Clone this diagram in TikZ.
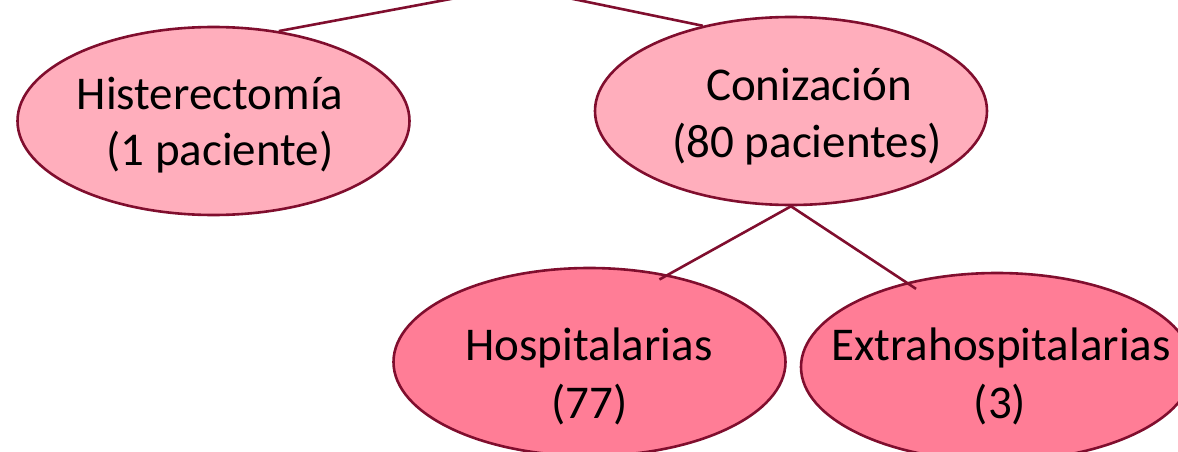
\documentclass[tikz,border=0pt]{standalone}
\usepackage{fontspec}
\setmainfont{Carlito}
\usetikzlibrary{shapes.geometric}
\definecolor{edgered}{RGB}{128,14,46}
\definecolor{lightpink}{RGB}{255,174,188}
\definecolor{deeppink}{RGB}{255,125,150}
\begin{document}
\begin{tikzpicture}[x=1pt,y=-1pt,
  oval/.style={ellipse, draw=edgered, line width=2.6pt, minimum width=392pt, minimum height=188pt, inner sep=0pt},
  lvlone/.style={oval, fill=lightpink},
  lvltwo/.style={oval, fill=deeppink},
  txt/.style={anchor=base, inner sep=0pt, font=\fontsize{47}{56}\selectfont},
  link/.style={draw=edgered, line width=2.6pt}]
\useasboundingbox (0,0) rectangle (1178,452);
\clip (0,0) rectangle (1178,452);
\coordinate (root) at (515,-13);
\node[lvlone] (hist) at (213.5,121) {};
\node[lvlone] (con) at (791,111) {};
\node[lvltwo] (hosp) at (589.5,362) {};
\node[lvltwo] (extra) at (997,367) {};
\draw[link] (root) -- (hist.54);
\draw[link] (root) -- (con.136);
\draw[link, shorten >=-10pt] (con.south) -- (hosp.48);
\draw[link, shorten >=-11.7pt] (con.south) -- (extra.137);
\node[txt] (histA) at (210,110) {Histerectomía};
\node[txt] (histB) at (220,165) {(1 paciente)};
\node[txt] (conA) at (809,100) {Conización};
\node[txt] (conB) at (807,157) {(80 pacientes)};
\node[txt] (hospA) at (589,360) {Hospitalarias};
\node[txt] (hospB) at (589.7,418) {(77)};
\node[txt] (extraA) at (1001,360) {Extrahospitalarias};
\node[txt] (extraB) at (1000,418) {(3)};
\end{tikzpicture}
\end{document}
